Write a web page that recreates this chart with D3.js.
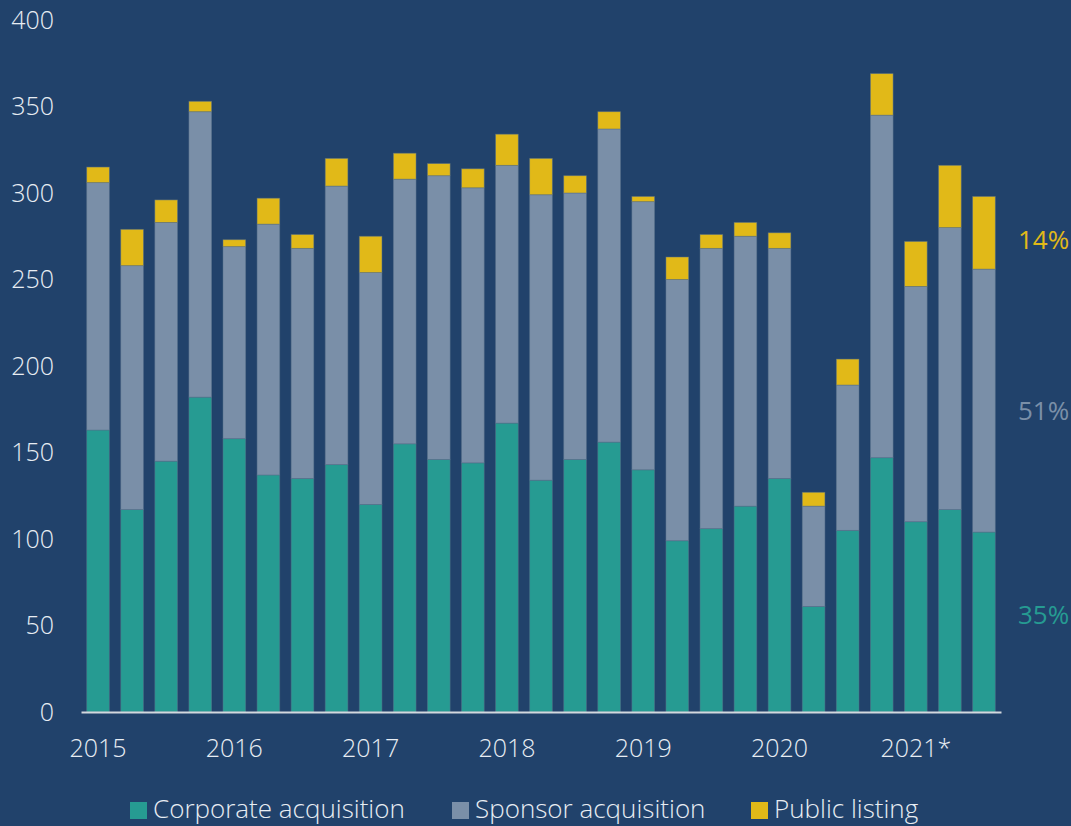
<!DOCTYPE html>
<html>
<head>
<meta charset="utf-8">
<script src="https://cdn.jsdelivr.net/npm/d3@7"></script>
<style>
  html, body { margin: 0; padding: 0; background: #21426b; }
  svg { display: block; font-family: "Open Sans", sans-serif; font-weight: 300; }
</style>
</head>
<body>
<div id="chart"></div>
<script>
const quarters = [
  "2015 Q1", "2015 Q2", "2015 Q3", "2015 Q4",
  "2016 Q1", "2016 Q2", "2016 Q3", "2016 Q4",
  "2017 Q1", "2017 Q2", "2017 Q3", "2017 Q4",
  "2018 Q1", "2018 Q2", "2018 Q3", "2018 Q4",
  "2019 Q1", "2019 Q2", "2019 Q3", "2019 Q4",
  "2020 Q1", "2020 Q2", "2020 Q3", "2020 Q4",
  "2021 Q1", "2021 Q2", "2021 Q3"
];

const corporate = [163, 117, 145, 182, 158, 137, 135, 143, 120, 155, 146, 144, 167, 134, 146, 156, 140, 99, 106, 119, 135, 61, 105, 147, 110, 117, 104];
const sponsor = [143, 141, 138, 165, 111, 145, 133, 161, 134, 153, 164, 159, 149, 165, 154, 181, 155, 151, 162, 156, 133, 58, 84, 198, 136, 163, 152];
const publicListing = [9, 21, 13, 6, 4, 15, 8, 16, 21, 15, 7, 11, 18, 21, 10, 10, 3, 13, 8, 8, 9, 8, 15, 24, 26, 36, 42];

const yTicks = [0, 50, 100, 150, 200, 250, 300, 350, 400];
const xTickQuarters = ["2015 Q1", "2016 Q1", "2017 Q1", "2018 Q1", "2019 Q1", "2020 Q1", "2021 Q1"];
const xTickLabels = ["2015", "2016", "2017", "2018", "2019", "2020", "2021*"];

const keys = ["corporate", "sponsor", "public"];
const names = ["Corporate acquisition", "Sponsor acquisition", "Public listing"];
const colors = ["#269b92", "#7a8fa8", "#e1b918"];

const width = 1071, height = 826;
const textColor = "#e8edf3";

const data = quarters.map((q, i) => ({
  quarter: q,
  corporate: corporate[i],
  sponsor: sponsor[i],
  public: publicListing[i]
}));

const svg = d3.select("#chart")
  .append("svg")
  .attr("width", width)
  .attr("height", height);

svg.append("rect")
  .attr("width", width)
  .attr("height", height)
  .attr("fill", "#21426b");

const xScale = d3.scaleBand()
  .domain(quarters)
  .range([81, 1001])
  .paddingInner(0.334)
  .paddingOuter(0.167);

const yScale = d3.scaleLinear()
  .domain([0, 400])
  .range([712, 20]);

const colorScale = d3.scaleOrdinal()
  .domain(keys)
  .range(colors);

const series = d3.stack().keys(keys)(data);

svg.append("g")
  .selectAll("g")
  .data(series)
  .join("g")
  .attr("fill", d => colorScale(d.key))
  .selectAll("rect")
  .data(d => d)
  .join("rect")
  .attr("x", d => xScale(d.data.quarter))
  .attr("width", xScale.bandwidth())
  .attr("y", d => yScale(d[1]))
  .attr("height", d => yScale(d[0]) - yScale(d[1]))
  .attr("stroke", "#56708a")
  .attr("stroke-opacity", 0.6)
  .attr("stroke-width", 0.8);

// y axis labels only
const yAxis = d3.axisLeft(yScale)
  .tickValues(yTicks)
  .tickSize(0)
  .tickPadding(0);

const yG = svg.append("g")
  .attr("transform", "translate(54, 0)")
  .call(yAxis);
yG.select(".domain").remove();
yG.selectAll("text")
  .attr("fill", textColor)
  .attr("font-size", 25)
  .attr("font-family", "'Open Sans', sans-serif")
  .attr("font-weight", 300);

// x axis
const xAxis = d3.axisBottom(xScale)
  .tickValues(xTickQuarters)
  .tickFormat((d, i) => xTickLabels[i])
  .tickSize(0)
  .tickPadding(27);

const xG = svg.append("g")
  .attr("transform", `translate(0, ${yScale(0)})`)
  .call(xAxis);
xG.select(".domain")
  .attr("stroke", "#d3d8de")
  .attr("stroke-width", 2);
xG.selectAll("text")
  .attr("fill", textColor)
  .attr("font-size", 25)
  .attr("font-family", "'Open Sans', sans-serif")
  .attr("font-weight", 300);

// share labels for the latest quarter
const last = data[data.length - 1];
const lastTotal = keys.reduce((s, k) => s + last[k], 0);
const labelNudge = { corporate: -7, sponsor: 10, public: 7 };
svg.append("g")
  .selectAll("text")
  .data(series)
  .join("text")
  .attr("x", 1018)
  .attr("y", d => yScale((d[d.length - 1][0] + d[d.length - 1][1]) / 2) + labelNudge[d.key])
  .attr("dy", "0.35em")
  .attr("fill", d => colorScale(d.key))
  .attr("font-size", 26)
  .attr("font-weight", 400)
  .text(d => Math.round(last[d.key] / lastTotal * 100) + "%");

// legend
const legendX = [130, 452, 751];
const legend = svg.append("g")
  .selectAll("g")
  .data(keys)
  .join("g")
  .attr("transform", (d, i) => `translate(${legendX[i]}, 802)`);

legend.append("rect")
  .attr("width", 17)
  .attr("height", 17)
  .attr("fill", d => colorScale(d));

legend.append("text")
  .attr("x", 23)
  .attr("y", 16)
  .attr("fill", textColor)
  .attr("font-size", 26)
  .text((d, i) => names[i]);
</script>
</body>
</html>
